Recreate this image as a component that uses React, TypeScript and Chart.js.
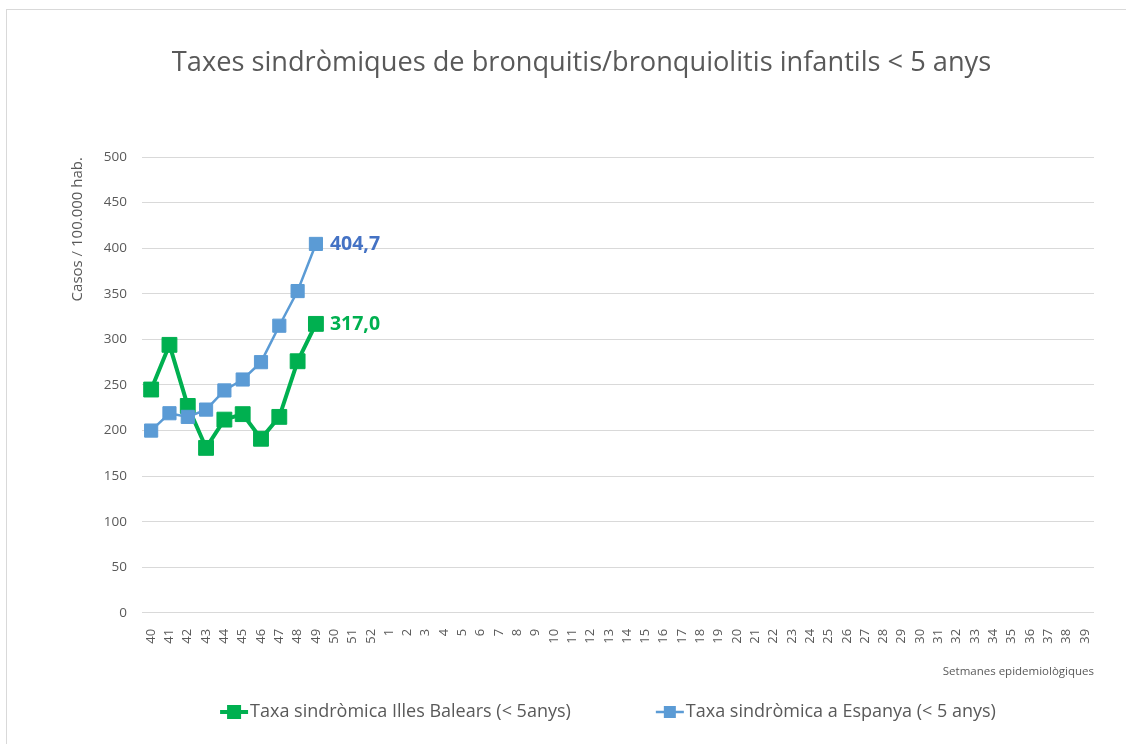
import React, { useEffect, useRef } from 'react';
import { Chart, registerables } from 'chart.js';

Chart.register(...registerables);

const weeks = [
  '40', '41', '42', '43', '44', '45', '46', '47', '48', '49', '50', '51', '52',
  '1', '2', '3', '4', '5', '6', '7', '8', '9', '10', '11', '12', '13', '14', '15',
  '16', '17', '18', '19', '20', '21', '22', '23', '24', '25', '26', '27', '28', '29',
  '30', '31', '32', '33', '34', '35', '36', '37', '38', '39',
];

const balearsValues = [245, 294, 227, 181, 212, 218, 191, 215, 276, 317.0];
const espanyaValues = [200, 219, 215, 223, 244, 256, 275, 315, 353, 404.7];

const balearsLabel = 'Taxa sindròmica Illes Balears (< 5anys)';
const espanyaLabel = 'Taxa sindròmica a Espanya (< 5 anys)';
const chartTitle = 'Taxes sindròmiques de bronquitis/bronquiolitis infantils < 5 anys';
const yTitle = 'Casos / 100.000 hab.';
const xTitle = 'Setmanes epidemiològiques';

const GREEN = '#00B050';
const BLUE = '#5B9BD5';
const BLUE_LABEL = '#4472C4';
const TEXT = '#595959';
const GRID = '#D9D9D9';
const FONT = '"Open Sans", Lato, sans-serif';

const toSeries = (values: number[]) => weeks.map((_, i) => (i < values.length ? values[i] : null));

const dataLabelPlugin = {
  id: 'lastValueLabels',
  afterDatasetsDraw(chart: any) {
    const { ctx } = chart;
    ctx.save();
    chart.data.datasets.forEach((ds: any, i: number) => {
      const meta = chart.getDatasetMeta(i);
      let last = -1;
      ds.data.forEach((v: any, j: number) => {
        if (v !== null && v !== undefined) last = j;
      });
      if (last < 0) return;
      const pt = meta.data[last];
      ctx.font = `bold 19.5px ${FONT}`;
      ctx.fillStyle = ds.valueLabelColor;
      ctx.textAlign = 'left';
      ctx.textBaseline = 'middle';
      ctx.fillText(Number(ds.data[last]).toFixed(1).replace('.', ','), pt.x + 14, pt.y + 1);
    });
    ctx.restore();
  },
};

const legendPlugin = {
  id: 'customBottomLegend',
  afterDraw(chart: any) {
    const { ctx, chartArea } = chart;
    ctx.save();
    ctx.font = `18px ${FONT}`;
    ctx.textBaseline = 'middle';
    ctx.textAlign = 'left';
    const markerW = 28;
    const textGap = 2;
    const itemGap = 85;
    const items = chart.data.datasets.map((ds: any) => ({
      text: ds.label,
      color: ds.borderColor,
      lw: ds.borderWidth,
      side: ds.legendSquare,
      w: markerW + textGap + ctx.measureText(ds.label).width,
    }));
    const total = items.reduce((s: number, it: any) => s + it.w, 0) + itemGap * (items.length - 1);
    const cx = (chartArea.left + chartArea.right) / 2 - 10;
    const y = 712;
    let x = cx - total / 2;
    items.forEach((it: any) => {
      ctx.strokeStyle = it.color;
      ctx.lineWidth = it.lw;
      ctx.beginPath();
      ctx.moveTo(x, y);
      ctx.lineTo(x + markerW, y);
      ctx.stroke();
      ctx.fillStyle = it.color;
      ctx.fillRect(x + markerW / 2 - it.side / 2, y - it.side / 2, it.side, it.side);
      ctx.fillStyle = TEXT;
      ctx.fillText(it.text, x + markerW + textGap, y);
      x += it.w + itemGap;
    });
    ctx.restore();
  },
};

export default function App() {
  const canvasRef = useRef<HTMLCanvasElement | null>(null);

  useEffect(() => {
    if (!canvasRef.current) return;
    const chart = new Chart(canvasRef.current, {
      type: 'line',
      data: {
        labels: weeks,
        datasets: [
          {
            label: balearsLabel,
            data: toSeries(balearsValues),
            borderColor: GREEN,
            backgroundColor: GREEN,
            borderWidth: 4,
            pointStyle: 'rect',
            pointRadius: 10.5,
            pointBorderWidth: 1,
            pointBackgroundColor: GREEN,
            pointBorderColor: GREEN,
            tension: 0,
            order: 1,
            valueLabelColor: GREEN,
            legendSquare: 14,
          } as any,
          {
            label: espanyaLabel,
            data: toSeries(espanyaValues),
            borderColor: BLUE,
            backgroundColor: BLUE,
            borderWidth: 2.5,
            pointStyle: 'rect',
            pointRadius: 9.3,
            pointBorderWidth: 1,
            pointBackgroundColor: BLUE,
            pointBorderColor: BLUE,
            tension: 0,
            order: 0,
            valueLabelColor: BLUE_LABEL,
            legendSquare: 12,
          } as any,
        ],
      },
      options: {
        responsive: false,
        animation: false,
        devicePixelRatio: 1,
        layout: { padding: { left: 69, right: 32, top: 0, bottom: 65 } },
        plugins: {
          legend: { display: false },
          tooltip: { enabled: false },
          title: {
            display: true,
            text: chartTitle,
            color: TEXT,
            font: { family: FONT, size: 27.2, weight: 'normal', lineHeight: 1.2 },
            padding: { top: 46.7, bottom: 77.7 },
          },
        },
        scales: {
          x: {
            offset: true,
            grid: { display: false },
            border: { display: false },
            ticks: {
              color: TEXT,
              font: { family: FONT, size: 13 },
              minRotation: 90,
              maxRotation: 90,
              autoSkip: false,
              padding: 8,
            },
            title: {
              display: true,
              text: xTitle,
              align: 'end',
              color: TEXT,
              font: { family: FONT, size: 11.5, lineHeight: 1.2 },
              padding: { top: 0, bottom: 0 },
            },
            afterFit: (s: any) => {
              s.height = 66.1;
            },
          },
          y: {
            min: 0,
            max: 500,
            ticks: {
              stepSize: 50,
              color: TEXT,
              font: { family: FONT, size: 13.5 },
              padding: 15,
            },
            grid: { color: GRID, drawTicks: false, lineWidth: 1 },
            border: { display: false },
            title: {
              display: true,
              text: yTitle,
              align: 'end',
              color: TEXT,
              font: { family: FONT, size: 15, lineHeight: 1.2 },
              padding: { top: 0, bottom: 0 },
            },
            afterFit: (s: any) => {
              s.width = 73;
            },
          },
        },
      } as any,
      plugins: [dataLabelPlugin, legendPlugin],
    });
    return () => chart.destroy();
  }, []);

  return (
    <div style={{ position: 'fixed', left: 0, top: 0, width: 1126, height: 744, background: '#fff' }}>
      <div
        style={{
          position: 'absolute',
          left: 6,
          top: 9,
          right: 0,
          bottom: 0,
          borderTop: `1px solid ${GRID}`,
          borderLeft: `1px solid ${GRID}`,
        }}
      />
      <canvas
        ref={canvasRef}
        width={1126}
        height={744}
        style={{ position: 'absolute', left: 0, top: 0, width: 1126, height: 744 }}
      />
    </div>
  );
}
